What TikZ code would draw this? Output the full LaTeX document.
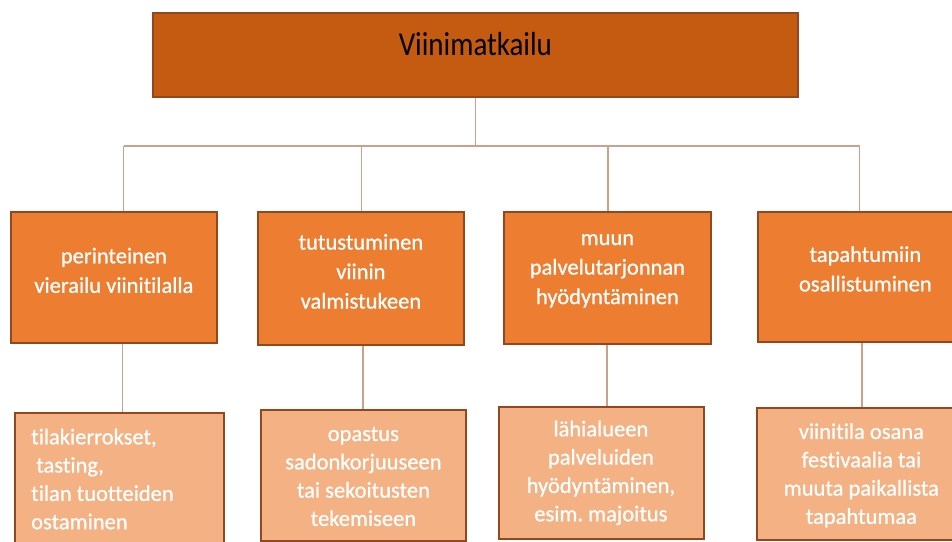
\documentclass[tikz,border=0pt]{standalone}
\usepackage{fontspec}
\setmainfont{Carlito}[Ligatures={NoCommon,NoContextual}]
\newfontfamily\semib{Carlito}[FakeBold=0.7,Ligatures={NoCommon,NoContextual}]
\definecolor{topfill}{HTML}{C55A11}
\definecolor{midfill}{HTML}{ED7D31}
\definecolor{lowfill}{HTML}{F4B183}
\definecolor{edgecol}{HTML}{93471F}
\definecolor{conncol}{HTML}{C9A28C}
\begin{document}
\frenchspacing
\begin{tikzpicture}[x=1pt,y=1pt,
  topbox/.style={draw=edgecol,line width=1.8pt,fill=topfill,minimum width=645pt,minimum height=84pt,inner sep=0pt,anchor=north west},
  midbox/.style={draw=edgecol,line width=1.8pt,fill=midfill,inner sep=0pt,anchor=north west},
  lowbox/.style={draw=edgecol,line width=1.8pt,fill=lowfill,inner sep=0pt,anchor=north west},
  midtxt/.style={text=white,align=center,font=\semib\fontsize{22.5}{29.5}\selectfont,inner sep=0pt},
  lowtxt/.style={text=white,align=center,font=\semib\fontsize{22.5}{28.3}\selectfont,inner sep=0pt},
  conn/.style={draw=conncol,line width=1.6pt}]
\useasboundingbox (0,0) rectangle (952,541);
\clip (0,0) rectangle (952,541);
% top
\node[topbox] (top) at (152,529) {};
\node[text=black,font=\fontsize{29}{34}\selectfont,inner sep=0pt,yscale=1.15] (toptxt) at ([yshift=11]top.center) {Viinimatkailu};
% level 2
\node[midbox,minimum width=206pt,minimum height=131pt] (m1) at (10,330) {};
\node[midbox,minimum width=206pt,minimum height=133pt] (m2) at (257,330) {};
\node[midbox,minimum width=207pt,minimum height=132pt] (m3) at (503,330) {};
\node[midbox,minimum width=215pt,minimum height=130pt] (m4) at (757,330) {};
\node[midtxt] (m1t) at ([yshift=7]m1.center) {perinteinen\\vierailu viinitilalla};
\node[midtxt] (m2t) at ([yshift=7]m2.center) {tutustuminen\\viinin\\valmistukeen};
\node[midtxt] (m3t) at ([yshift=7]m3.center) {muun\\palvelutarjonnan\\hyödyntäminen};
\node[midtxt] (m4t) at ([yshift=8]m4.center) {tapahtumiin\\osallistuminen};
% level 3
\node[lowbox,minimum width=209pt,minimum height=136pt] (l1) at (14,129) {};
\node[lowbox,minimum width=205pt,minimum height=131pt] (l2) at (260,132) {};
\node[lowbox,minimum width=205pt,minimum height=132pt] (l3) at (498,135) {};
\node[lowbox,minimum width=215pt,minimum height=132pt] (l4) at (756,134) {};
\node[lowtxt,align=left,anchor=west] (l1t) at (31,62) {tilakierrokset,\\\ tasting,\\tilan tuotteiden\\ostaminen};
\node[lowtxt] (l2t) at ([yshift=-1]l2.center) {opastus\\sadonkorjuuseen\\tai sekoitusten\\tekemiseen};
\node[lowtxt] (l3t) at ([xshift=-0.5]l3.center) {lähialueen\\palveluiden\\hyödyntäminen,\\esim. majoitus};
\node[lowtxt] (l4t) at ([xshift=-3,yshift=-1.5]l4.center) {viinitila osana\\festivaalia tai\\muuta paikallista\\tapahtumaa};
% connectors
\coordinate (hl) at (123.5,395);
\coordinate (hr) at (859.5,395);
\coordinate (c2) at (361.5,395);
\coordinate (c3) at (608,395);
\coordinate (d1) at (122.5,200);
\coordinate (d2) at (363,200);
\coordinate (d3) at (607,200);
\coordinate (d4) at (862,200);
\draw[conn] (top.south) -- (top.south |- hl);
\draw[conn] (hl) -- (hr);
\draw[conn] (hl) -- (hl |- m1.north);
\draw[conn] (c2) -- (c2 |- m2.north);
\draw[conn] (c3) -- (c3 |- m3.north);
\draw[conn] (hr) -- (hr |- m4.north);
\draw[conn] (d1 |- m1.south) -- (d1 |- l1.north);
\draw[conn] (d2 |- m2.south) -- (d2 |- l2.north);
\draw[conn] (d3 |- m3.south) -- (d3 |- l3.north);
\draw[conn] (d4 |- m4.south) -- (d4 |- l4.north);
\end{tikzpicture}
\end{document}
